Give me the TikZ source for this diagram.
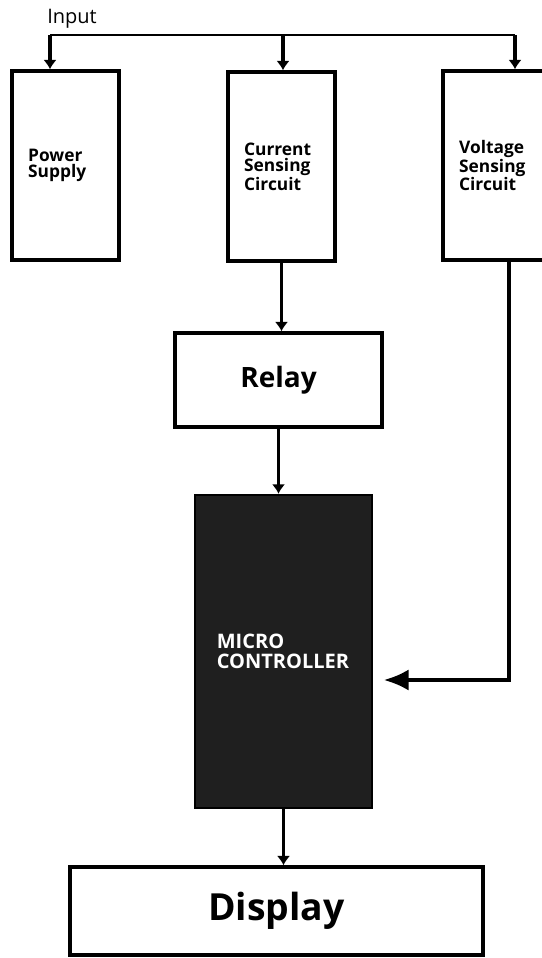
\documentclass[tikz,border=0pt]{standalone}
\usepackage{fontspec}
\setmainfont{Open Sans}
\usepackage{tikz}
\usetikzlibrary{arrows.meta,positioning,calc}

\begin{document}
\begin{tikzpicture}[
    x=0.75pt, y=-0.75pt,
    >={Latex[length=7pt,width=10pt]},
    block/.style={rectangle, draw=black, line width=2.6pt, fill=white,
      minimum width=80.25pt, minimum height=141.75pt, text width=56pt,
      align=left, inner xsep=12pt, font=\fontsize{13}{12.5}\selectfont\bfseries},
    wide/.style={rectangle, draw=black, line width=2.6pt, fill=white, align=center,
      font=\bfseries},
    mcu/.style={rectangle, draw=black, line width=2pt, fill=black!88, text=white,
      minimum width=132.75pt, minimum height=234.75pt, text width=100pt,
      align=left, inner xsep=16pt, font=\fontsize{15}{15}\selectfont\bfseries},
    flow/.style={->, line width=2.4pt, draw=black},
    bus/.style={line width=2pt, draw=black},
    fb/.style={-{Latex[length=19pt,width=16pt]}, line width=3.4pt, draw=black}
  ]
  \useasboundingbox (0,0) rectangle (542,958);
  % top row
  \node[block] (psu) at (65.5,165.5) {Power\\Supply};
  \node[block] (cur) at (281.5,166.5) {Current\\Sensing\\Circuit};
  \node[block] (volt) at (496.5,165.5) {Voltage\\Sensing\\Circuit};
  % input bus
  \coordinate (busL) at (50,35);
  \coordinate (busM) at (283,35);
  \coordinate (busR) at (515,35);
  \node[font=\fontsize{15}{16}\selectfont, anchor=south west, inner sep=0pt] (inp) at (47,29) {Input};
  \draw[bus] (busL) -- (busR);
  \draw[flow] (busL) -- (busL |- psu.north);
  \draw[flow] (busM) -- (busM |- cur.north);
  \draw[flow] (busR) -- (busR |- volt.north);
  % chain
  \node[wide, minimum width=155.25pt, minimum height=70.5pt,
    font=\fontsize{21}{22}\selectfont\bfseries] (relay) at (278.5,380) {Relay};
  \node[mcu] (micro) at (283.5,651.5) {MICRO\\CONTROLLER};
  \node[wide, minimum width=309.75pt, minimum height=66pt,
    font=\fontsize{28}{30}\selectfont\bfseries] (disp) at (276.5,911) {Display};
  \draw[flow] (cur.south) -- (cur.south |- relay.north);
  \draw[flow] (relay.south) -- (relay.south |- micro.north);
  \draw[flow] (micro.south) -- (micro.south |- disp.north);
  % voltage feedback
  \coordinate (vin) at ($(micro.east)+(10,28.5)$);
  \draw[fb] ([xshift=9.5pt]volt.south) |- (vin);
\end{tikzpicture}
\end{document}
